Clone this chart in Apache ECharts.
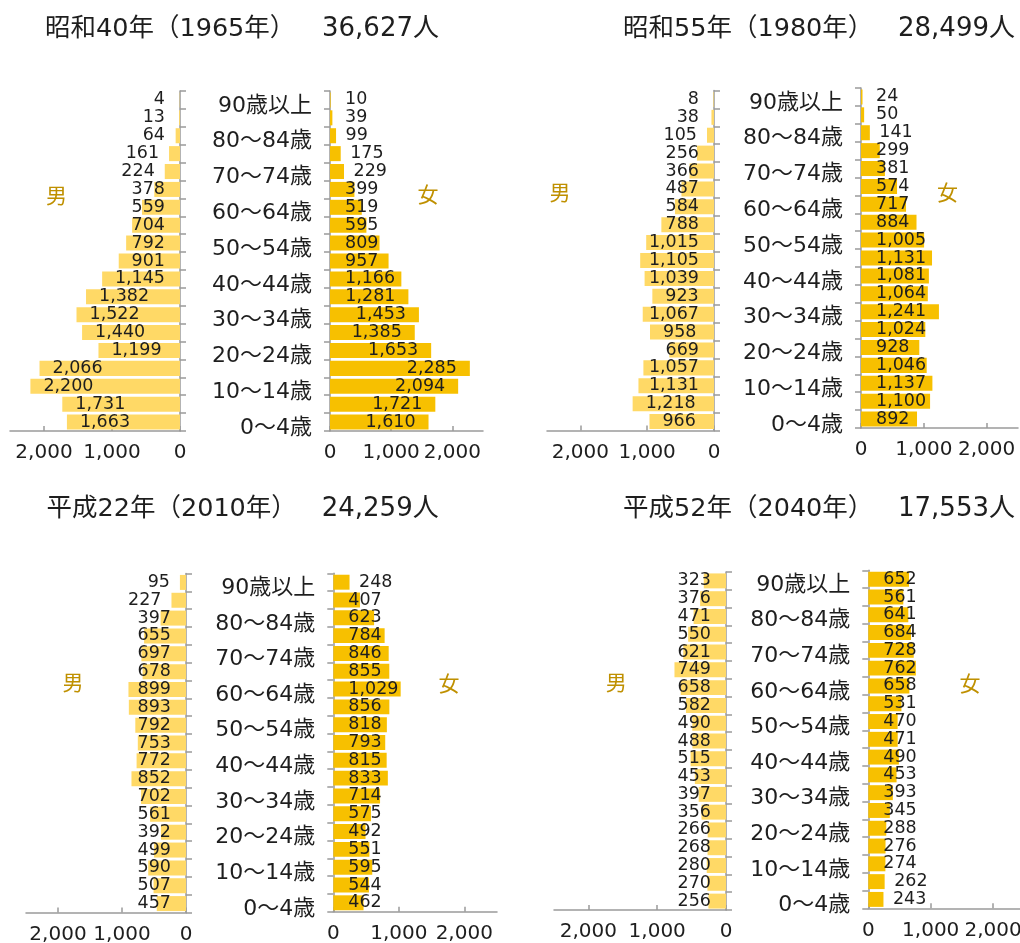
<!DOCTYPE html>
<html>
<head>
<meta charset="utf-8">
<script src="https://cdn.jsdelivr.net/npm/echarts@6/dist/echarts.min.js"></script>
<style>
html, body { margin: 0; padding: 0; background: #fff; }
#chart { width: 1020px; height: 943px; }
</style>
</head>
<body>
<div id="chart"></div>
<script>
// Age groups, oldest at the top
const ageGroups = ['90歳以上', '85～89歳', '80～84歳', '75～79歳', '70～74歳', '65～69歳',
  '60～64歳', '55～59歳', '50～54歳', '45～49歳', '40～44歳', '35～39歳', '30～34歳',
  '25～29歳', '20～24歳', '15～19歳', '10～14歳', '5～9歳', '0～4歳'];

// Population by age group (persons), same order as ageGroups
const male1965 = [4, 13, 64, 161, 224, 378, 559, 704, 792, 901, 1145, 1382, 1522, 1440, 1199, 2066, 2200, 1731, 1663];
const female1965 = [10, 39, 99, 175, 229, 399, 519, 595, 809, 957, 1166, 1281, 1453, 1385, 1653, 2285, 2094, 1721, 1610];
const male1980 = [8, 38, 105, 256, 366, 487, 584, 788, 1015, 1105, 1039, 923, 1067, 958, 669, 1057, 1131, 1218, 966];
const female1980 = [24, 50, 141, 299, 381, 574, 717, 884, 1005, 1131, 1081, 1064, 1241, 1024, 928, 1046, 1137, 1100, 892];
const male2010 = [95, 227, 397, 655, 697, 678, 899, 893, 792, 753, 772, 852, 702, 561, 392, 499, 590, 507, 457];
const female2010 = [248, 407, 623, 784, 846, 855, 1029, 856, 818, 793, 815, 833, 714, 575, 492, 551, 595, 544, 462];
const male2040 = [323, 376, 471, 550, 621, 749, 658, 582, 490, 488, 515, 453, 397, 356, 266, 268, 280, 270, 256];
const female2040 = [652, 561, 641, 684, 728, 762, 658, 531, 470, 471, 490, 453, 393, 345, 288, 276, 274, 262, 243];

const panelYears = ['昭和40年（1965年）', '昭和55年（1980年）', '平成22年（2010年）', '平成52年（2040年）'];
const panelTotals = ['36,627人', '28,499人', '24,259人', '17,553人'];
const maleName = '男';
const femaleName = '女';
const axisTickValues = [0, 1000, 2000];
const axisMax = 2500;

const FONT = "'DejaVu Sans', 'Noto Sans CJK JP', sans-serif";
const CJK_FONT = "'Noto Sans CJK JP', sans-serif";
const MALE_COLOR = '#FFD966';
const FEMALE_COLOR = '#F7C000';
const TAG_COLOR = '#BF9000';
const TEXT_COLOR = '#1e1e1e';
const AXIS_COLOR = '#9a9a9a';

const panels = [
  { male: male1965, female: female1965 },
  { male: male1980, female: female1980 },
  { male: male2010, female: female2010 },
  { male: male2040, female: female2040 }
];

// Pixel layout of each pyramid: male grid, female grid, headline and tag anchors
const layouts = [
  { m: [10, 91, 170, 340], f: [330, 91, 153, 340], year: [45, 29], total: [322, 29], mTag: [56.5, 195], fTag: [428, 194] },
  { m: [547, 90.5, 167, 340], f: [861, 88, 157, 340], year: [623, 29], total: [898, 29], mTag: [560, 192], fTag: [947.5, 192] },
  { m: [26, 573.5, 160, 339], f: [333.3, 573.3, 163.7, 338.4], year: [46.5, 509], total: [321.7, 509], mTag: [73, 682.5], fTag: [449, 683] },
  { m: [554, 572, 172, 338], f: [868.3, 570.3, 156, 338], year: [623, 509], total: [898, 509], mTag: [616.3, 682.5], fTag: [970, 683] }
];

const fmt = v => Number(v).toLocaleString('en-US');

// Value labels: inside the bar end for long bars, just past the end for short ones,
// and never closer than 15px to the axis
function maleLabelLayout(p) {
  const r = p.rect, w = p.labelRect.width;
  const x0 = Math.min(r.x, r.x + r.width), x1 = Math.max(r.x, r.x + r.width);
  const y = r.y + r.height / 2;
  if (x1 - x0 < w / 2) {
    return { x: Math.min(x0 - 10, x1 - 15), y: y, align: 'right', verticalAlign: 'middle' };
  }
  return { x: Math.min(x0 + 13, x1 - 15 - w), y: y, align: 'left', verticalAlign: 'middle' };
}
function femaleLabelLayout(p) {
  const r = p.rect, w = p.labelRect.width;
  const x0 = Math.min(r.x, r.x + r.width), x1 = Math.max(r.x, r.x + r.width);
  const y = r.y + r.height / 2;
  if (x1 - x0 < w / 2) {
    return { x: Math.max(x1 + 9.5, x0 + 15), y: y, align: 'left', verticalAlign: 'middle' };
  }
  return { x: Math.max(x1 - 13, x0 + 15 + w), y: y, align: 'right', verticalAlign: 'middle' };
}

const grid = [], xAxis = [], yAxis = [], series = [], graphic = [];
const axisLine = { show: true, onZero: false, lineStyle: { color: AXIS_COLOR, width: 1.5 } };

panels.forEach((pd, i) => {
  const L = layouts[i];
  [['m', pd.male, MALE_COLOR, true], ['f', pd.female, FEMALE_COLOR, false]].forEach(([key, data, color, isMale]) => {
    const g = L[key];
    const idx = grid.length;
    grid.push({ left: g[0], top: g[1], width: g[2], height: g[3], containLabel: false, outerBoundsMode: 'none' });
    xAxis.push({
      gridIndex: idx, type: 'value', min: 0, max: axisMax, inverse: isMale,
      axisLine: axisLine,
      axisTick: { show: true, inside: true, length: 5, customValues: axisTickValues, lineStyle: { color: AXIS_COLOR, width: 1.5 } },
      axisLabel: { customValues: axisTickValues, formatter: fmt, fontFamily: FONT, fontSize: 20, color: TEXT_COLOR, margin: 12, hideOverlap: false },
      splitLine: { show: false }
    });
    yAxis.push({
      gridIndex: idx, type: 'category', data: ageGroups, inverse: true,
      position: isMale ? 'right' : 'left',
      axisLine: axisLine,
      axisTick: { show: true, interval: 0, length: 6, lineStyle: { color: AXIS_COLOR, width: 1.5 } },
      axisLabel: isMale ? { show: false } : {
        show: true, interval: 1, margin: 18, color: TEXT_COLOR,
        formatter: v => '{age|' + v + '}',
        rich: { age: { fontFamily: FONT, fontSize: 22, color: TEXT_COLOR, padding: [12, 0, 0, 0] } }
      },
      splitLine: { show: false }
    });
    series.push({
      type: 'bar', name: isMale ? maleName : femaleName,
      xAxisIndex: idx, yAxisIndex: idx, data: data,
      barCategoryGap: '16%', silent: true, animation: false,
      itemStyle: { color: color },
      label: { show: true, formatter: p => fmt(p.value), fontFamily: FONT, fontSize: 17.5, color: TEXT_COLOR },
      labelLayout: isMale ? maleLabelLayout : femaleLabelLayout
    });
  });
  graphic.push(
    { type: 'text', x: L.year[0], y: L.year[1], style: { text: panelYears[i], font: '25.5px ' + FONT, fill: TEXT_COLOR, verticalAlign: 'middle', align: 'left' } },
    { type: 'text', x: L.total[0], y: L.total[1], style: { text: panelTotals[i], font: '26px ' + FONT, fill: TEXT_COLOR, verticalAlign: 'middle', align: 'left' } },
    { type: 'text', x: L.mTag[0], y: L.mTag[1], style: { text: maleName, font: '21px ' + CJK_FONT, fill: TAG_COLOR, verticalAlign: 'middle', align: 'center' } },
    { type: 'text', x: L.fTag[0], y: L.fTag[1], style: { text: femaleName, font: '21px ' + CJK_FONT, fill: TAG_COLOR, verticalAlign: 'middle', align: 'center' } }
  );
});

const chart = echarts.init(document.getElementById('chart'), null, { renderer: 'canvas' });
chart.setOption({
  backgroundColor: '#ffffff',
  animation: false,
  grid: grid,
  xAxis: xAxis,
  yAxis: yAxis,
  series: series,
  graphic: graphic
});
</script>
</body>
</html>
